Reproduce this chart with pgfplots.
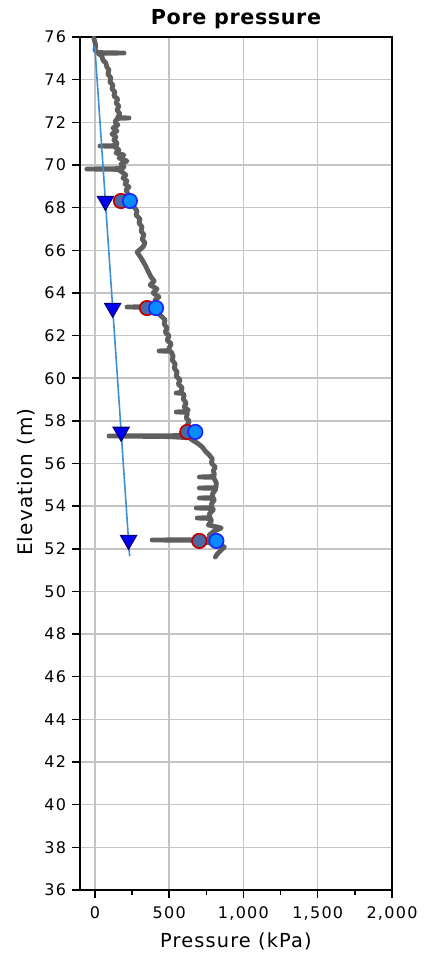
\documentclass[border=0pt]{standalone}
\usepackage{fontspec}
\setmainfont{DejaVu Sans}
\newfontfamily\tickfont{DejaVu Sans}[LetterSpace=8]
\newfontfamily\labfont{DejaVu Sans}[LetterSpace=6]
\newfontfamily\titfont{DejaVu Sans}[LetterSpace=3]
\usepackage{pgfplots}
\pgfplotsset{compat=1.18}
\definecolor{curvegray}{HTML}{5F5F5F}
\definecolor{gridgray}{HTML}{C4C4C4}
\definecolor{hydro}{HTML}{3A8FD8}
\definecolor{redline}{HTML}{C00000}
\definecolor{steel}{HTML}{4A6AA5}
\definecolor{brightblue}{HTML}{0A8CFF}
\definecolor{edgeblue}{HTML}{1A2AFF}
\definecolor{tri}{HTML}{0000F0}
\definecolor{triedge}{HTML}{00007A}
\pgfplotstableread{
P E
-7 75.953
0 75.766
7 75.578
0 75.390
14 75.297
18 75.270
196 75.250
22 75.230
27 75.203
47 75.109
54 74.922
74 74.781
81 74.593
95 74.453
88 74.265
108 74.077
101 73.890
122 73.749
115 73.562
135 73.421
128 73.233
155 73.093
142 72.905
162 72.764
149 72.577
169 72.389
155 72.249
155 72.220
230 72.202
150 72.180
149 72.155
135 72.014
155 71.873
122 71.733
149 71.592
115 71.451
142 71.311
128 71.170
149 71.029
145 70.910
34 70.889
138 70.870
135 70.842
162 70.701
142 70.560
196 70.466
162 70.326
216 70.185
176 70.045
196 69.904
180 69.830
-54 69.810
165 69.790
162 69.763
182 69.669
209 69.529
189 69.388
216 69.247
203 69.107
230 68.966
209 68.825
223 68.638
203 68.497
223 68.356
250 68.216
264 68.028
284 67.841
277 67.653
304 67.465
297 67.278
318 67.090
311 66.903
331 66.715
318 66.528
338 66.340
324 66.152
284 65.918
311 65.637
338 65.309
358 65.027
378 64.746
399 64.558
372 64.371
419 64.183
392 63.995
432 63.808
405 63.667
419 63.480
410 63.360
216 63.339
370 63.320
365 63.292
405 63.151
432 63.011
453 62.870
473 62.729
466 62.542
486 62.354
473 62.167
500 61.979
486 61.791
514 61.604
500 61.416
500 61.300
432 61.276
505 61.260
514 61.229
527 61.041
520 60.854
541 60.666
534 60.478
554 60.291
547 60.103
574 59.916
561 59.728
588 59.540
581 59.400
581 59.330
547 59.306
590 59.290
601 59.212
595 59.025
615 58.837
601 58.650
628 58.509
620 58.440
547 58.415
620 58.400
622 58.321
615 58.134
635 57.993
622 57.805
642 57.618
635 57.430
635 57.310
95 57.290
500 57.260
640 57.200
655 57.102
689 56.961
723 56.774
743 56.586
770 56.399
791 56.211
784 56.024
811 55.836
797 55.648
805 55.500
800 55.390
703 55.367
800 55.350
804 55.273
818 55.086
815 54.870
703 54.851
812 54.830
811 54.757
791 54.570
795 54.400
703 54.382
800 54.360
804 54.288
784 54.101
790 53.930
682 53.913
795 53.890
797 53.820
770 53.632
775 53.460
689 53.444
780 53.420
784 53.303
764 53.116
851 52.975
804 52.834
770 52.647
770 52.430
385 52.413
740 52.390
737 52.319
824 52.225
872 52.084
851 51.944
824 51.756
811 51.615
}\porecurve
\begin{document}
\begin{tikzpicture}
\path[use as bounding box] (0pt,0pt) rectangle (329.25pt,718.5pt);
\begin{axis}[
  at={(60pt,51pt)}, anchor=south west,
  scale only axis, width=234pt, height=639.75pt,
  xmin=-100, xmax=2000, ymin=36, ymax=76,
  xtick={0,500,1000,1500,2000},
  ytick={36,38,...,76},
  minor x tick num=1,
  tick align=outside, tick pos=left,
  major tick length=6pt, minor tick length=3.5pt,
  every tick/.style={black, line width=1.1pt},
  grid=major,
  major grid style={color=gridgray, line width=1.1pt},
  axis line style={black, line width=1.5pt},
  /pgf/number format/assume math mode=true,
  /pgf/number format/1000 sep={,},
  ticklabel style={font=\tickfont\fontsize{12}{14}\selectfont},
  xticklabel style={anchor=north, yshift=-3pt},
  yticklabel style={anchor=east, xshift=-1pt},
  every axis title shift=0pt,
  title={Pore pressure},
  title style={font=\titfont\bfseries\fontsize{15.5}{18}\selectfont, at={(axis description cs:0.5,1)}, anchor=base, yshift=9pt},
  xlabel={Pressure (kPa)},
  xlabel style={font=\labfont\fontsize{14.5}{17}\selectfont, at={(axis description cs:0.5,0)}, anchor=base, yshift=-42.75pt},
  ylabel={Elevation (m)},
  ylabel style={font=\labfont\fontsize{15}{17}\selectfont, at={(axis description cs:0,0.5)}, anchor=center, yshift=40pt, xshift=-14pt},
]
\addplot[curvegray, line width=3.6pt, line join=round, line cap=round] table[x=P, y=E] {\porecurve};
\addplot[hydro, line width=1.2pt] coordinates {(0,75.55) (234,51.65)};
\addplot[only marks, mark=triangle*, mark size=7pt, mark options={rotate=180, fill=tri, draw=triedge, line width=0.8pt}]
  coordinates {(71,68.31) (120,63.29) (177,57.48) (227,52.41)};
\addplot[only marks, mark=*, mark size=5.4pt, mark options={fill=steel, draw=redline, line width=1.3pt}]
  coordinates {(176,68.31) (351,63.29) (622,57.48) (703,52.37)};
\addplot[only marks, mark=*, mark size=5.4pt, mark options={fill=brightblue, draw=edgeblue, line width=1.3pt}]
  coordinates {(236,68.31) (412,63.29) (676,57.48) (818,52.37)};
\end{axis}
\end{tikzpicture}
\end{document}
